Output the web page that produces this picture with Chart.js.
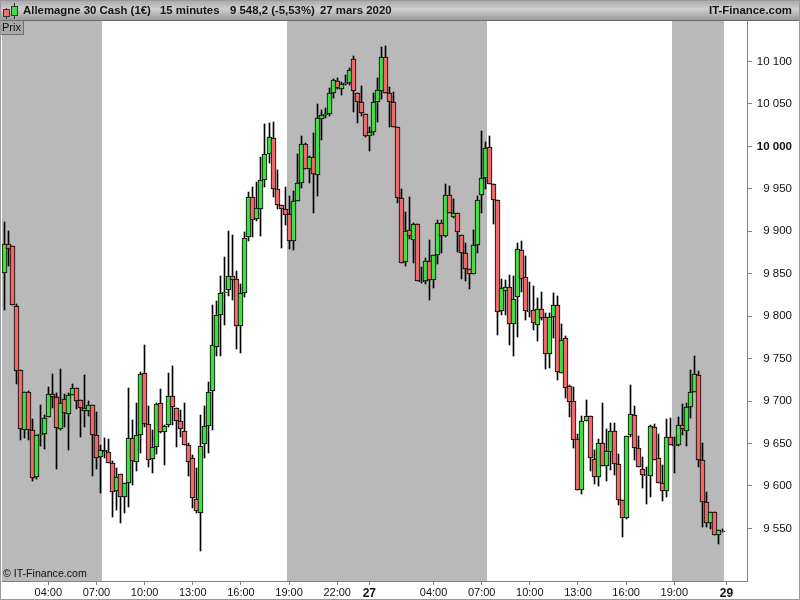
<!DOCTYPE html>
<html>
<head>
<meta charset="utf-8">
<title>Allemagne 30 Cash</title>
<script src="https://cdn.jsdelivr.net/npm/chart.js@4"></script>
<style>
html, body { margin: 0; padding: 0; background: #fff; }
canvas { display: block; }
</style>
</head>
<body>
<canvas id="priceChart" width="800" height="600"></canvas>
<script>
const opens = [9850.8,9885.0,9882.6,9811.9,9736.5,9665.9,9710.6,9665.9,9610.6,9660.0,9661.2,9681.2,9708.2,9704.7,9667.0,9702.4,9684.7,9707.1,9715.4,9701.2,9691.8,9688.2,9695.3,9660.0,9634.2,9642.4,9640.0,9627.1,9594.1,9614.1,9587.0,9603.5,9656.4,9628.3,9660.0,9733.0,9672.9,9631.8,9646.0,9697.7,9663.5,9671.8,9705.9,9691.8,9676.5,9664.7,9648.2,9633.0,9584.7,9568.2,9649.4,9670.6,9711.8,9763.6,9801.3,9827.2,9830.8,9847.3,9843.7,9788.4,9827.2,9893.2,9940.3,9914.4,9926.2,9960.4,9991.0,10009.8,9949.7,9931.0,9926.2,9920.3,9888.5,9935.6,9956.8,10002.8,9973.3,9987.5,9966.3,10032.2,10036.9,10038.1,10062.8,10077.0,10067.6,10073.5,10074.6,10102.9,10062.8,10052.3,10038.1,10012.2,10016.9,10052.3,10065.2,10105.3,10062.8,10052.3,10022.8,9939.2,9863.8,9901.5,9889.7,9908.5,9840.2,9841.4,9865.0,9842.6,9872.0,9909.7,9894.4,9942.7,9916.8,9921.5,9895.6,9874.4,9855.5,9849.6,9883.8,9942.7,9962.7,9999.3,9955.7,9936.8,9806.1,9829.6,9834.3,9790.8,9822.5,9877.9,9846.1,9804.9,9807.2,9789.6,9808.4,9799.0,9755.4,9799.0,9813.1,9733.0,9774.3,9717.7,9700.0,9655.3,9595.3,9676.5,9682.4,9631.8,9610.6,9650.6,9623.5,9640.0,9664.7,9625.9,9583.5,9562.3,9660.0,9683.5,9644.7,9620.0,9611.8,9611.8,9669.4,9633.0,9603.5,9594.1,9657.6,9647.0,9648.2,9671.8,9664.7,9693.0,9710.6,9730.7,9630.6,9581.1,9556.4,9569.3,9542.2,9545.8];
const highs = [9910.9,9900.3,9882.6,9814.3,9736.5,9710.6,9711.8,9678.8,9660.0,9695.3,9683.5,9716.5,9731.8,9709.4,9737.7,9708.2,9709.4,9720.1,9715.4,9701.2,9730.7,9700.0,9695.3,9687.1,9648.2,9656.4,9655.3,9629.4,9621.2,9614.1,9603.5,9715.4,9677.6,9697.7,9734.2,9766.0,9694.1,9665.9,9697.7,9714.2,9671.8,9733.0,9741.3,9691.8,9689.4,9697.7,9650.6,9636.5,9621.2,9683.5,9694.1,9722.4,9813.1,9817.8,9847.3,9869.7,9900.3,9895.6,9853.2,9837.9,9899.1,9946.2,9952.1,9958.0,9987.5,10026.3,10027.5,10028.7,9972.2,9931.0,9952.1,9941.5,9947.4,9991.0,10012.2,10004.0,9988.6,10015.7,10049.9,10042.8,10045.2,10068.7,10079.3,10080.5,10075.8,10084.1,10092.3,10106.4,10062.8,10071.1,10038.1,10022.8,10062.8,10080.5,10117.0,10118.2,10069.9,10064.0,10022.8,9949.7,9922.7,9940.3,9909.7,9908.5,9857.9,9868.5,9889.7,9872.0,9913.2,9913.2,9955.7,9953.3,9938.0,9921.5,9895.6,9886.2,9855.5,9901.5,9941.5,10018.1,10005.1,10012.2,9955.7,9936.8,9843.7,9842.6,9848.5,9847.3,9886.2,9888.5,9870.8,9840.2,9835.5,9821.4,9828.4,9803.7,9803.7,9827.2,9823.7,9790.8,9776.6,9718.9,9716.5,9661.2,9682.4,9701.2,9682.4,9642.4,9655.3,9697.7,9667.0,9674.1,9674.1,9637.7,9583.5,9658.8,9718.9,9694.1,9658.8,9634.2,9622.4,9671.8,9672.9,9661.2,9624.7,9678.8,9680.0,9657.6,9681.2,9696.5,9697.7,9736.5,9753.0,9735.3,9650.6,9592.9,9569.3,9569.3,9548.1,9549.3];
const lows = [9807.2,9859.1,9813.1,9720.1,9654.1,9656.4,9654.1,9605.9,9608.2,9647.0,9643.5,9681.2,9691.8,9620.0,9665.9,9669.4,9642.4,9707.1,9690.6,9657.6,9669.4,9682.4,9611.8,9620.0,9591.7,9633.0,9627.1,9563.5,9571.7,9556.4,9568.2,9575.3,9601.2,9617.6,9638.9,9669.4,9622.4,9615.3,9637.7,9662.4,9624.7,9669.4,9671.8,9646.0,9657.6,9648.2,9611.8,9574.1,9568.2,9523.4,9633.0,9638.9,9665.9,9753.0,9753.0,9789.6,9823.7,9819.0,9761.3,9756.6,9822.5,9888.5,9893.2,9912.1,9894.4,9952.1,9980.4,9940.3,9926.2,9880.3,9907.4,9879.1,9877.9,9935.6,9950.9,9973.3,9956.8,9921.5,9941.5,10007.5,10033.4,10035.7,10056.9,10067.6,10060.5,10072.3,10072.3,10040.5,10027.5,10035.7,10011.0,9994.5,10013.4,10028.7,10055.8,10062.8,10022.8,10022.8,9933.3,9862.6,9859.1,9890.9,9862.6,9841.4,9839.1,9837.9,9819.0,9833.2,9861.4,9874.4,9893.2,9921.5,9915.6,9875.6,9843.7,9841.4,9832.0,9849.6,9874.4,9921.5,9949.7,9955.7,9908.5,9777.8,9801.3,9801.3,9766.0,9753.0,9775.4,9828.4,9795.5,9799.0,9783.7,9770.7,9795.5,9737.7,9738.9,9774.3,9724.8,9733.0,9703.6,9681.2,9644.7,9595.3,9590.6,9676.5,9617.6,9602.3,9600.0,9623.5,9605.9,9618.8,9612.9,9577.6,9539.9,9561.1,9657.6,9630.6,9622.4,9597.6,9578.8,9587.0,9630.6,9603.5,9582.3,9587.0,9648.2,9615.3,9647.0,9660.0,9647.0,9680.0,9710.6,9622.4,9551.6,9551.6,9549.3,9542.2,9531.6,9545.8];
const closes = [9885.0,9879.1,9813.1,9735.3,9667.0,9710.6,9665.9,9609.4,9660.0,9661.2,9680.0,9708.2,9704.7,9668.2,9697.7,9685.9,9707.1,9715.4,9700.0,9691.8,9688.2,9695.3,9660.0,9633.0,9642.4,9640.0,9627.1,9592.9,9610.6,9587.0,9603.5,9656.4,9629.4,9660.0,9731.8,9672.9,9630.6,9646.0,9696.5,9663.5,9670.6,9705.9,9693.0,9676.5,9667.0,9648.2,9628.3,9585.9,9570.5,9647.0,9670.6,9710.6,9766.0,9801.3,9827.2,9828.4,9847.3,9842.6,9788.4,9827.2,9892.1,9940.3,9913.2,9927.4,9960.4,9991.0,10011.0,9949.7,9931.0,9926.2,9919.2,9888.5,9935.6,9956.8,10002.8,9973.3,9987.5,9967.4,10033.4,10036.9,10038.1,10062.8,10078.2,10068.7,10073.5,10074.6,10090.0,10065.2,10052.3,10039.3,10012.2,10016.9,10052.3,10066.4,10105.3,10062.8,10052.3,10022.8,9939.2,9862.6,9900.3,9894.4,9908.5,9841.4,9841.4,9865.0,9842.6,9872.0,9909.7,9894.4,9942.7,9921.5,9921.5,9899.1,9874.4,9855.5,9849.6,9883.8,9936.8,9962.7,9998.1,9955.7,9936.8,9804.9,9833.2,9834.3,9790.8,9820.2,9879.1,9843.7,9806.1,9806.1,9791.9,9808.4,9797.8,9755.4,9799.0,9813.1,9734.2,9771.9,9715.4,9698.9,9654.1,9595.3,9676.5,9682.4,9633.0,9610.6,9650.6,9623.5,9641.2,9664.7,9625.9,9583.5,9562.3,9658.8,9684.7,9644.7,9622.4,9612.9,9612.9,9670.6,9630.6,9603.5,9594.1,9657.6,9648.2,9648.2,9671.8,9667.0,9693.0,9710.6,9731.8,9630.6,9581.1,9556.4,9569.3,9542.2,9548.1,9547.0];

const priceTicks = [10100,10050,10000,9950,9900,9850,9800,9750,9700,9650,9600,9550];
const timeTickIndex = [11,23,35,47,59,71,83,91,107,119,131,143,155,167,180];
const timeTickLabels = ['04:00','07:00','10:00','13:00','16:00','19:00','22:00','27','04:00','07:00','10:00','13:00','16:00','19:00','29'];
const boldTimeLabels = ['27','29'];
// index ranges of the grey session bands
const bandStarts = [-0.54,70.48,166.43];
const bandEnds = [24.38,120.33,179.38];

const titleParts = ['Allemagne 30 Cash (1€)','15 minutes','9 548,2 (-5,53%)','27 mars 2020'];
const titleX = [23,160,230,320];

const UP = '#44dc44';
const DOWN = '#ec6a6a';
const FONT = '"Liberation Sans", Arial, sans-serif';

const indexes = closes.map((c, i) => i);
const wicks = indexes.map(i => ({ x: i, y: [lows[i], highs[i]] }));
const bodies = indexes.map(i => ({ x: i, y: [opens[i], closes[i]] }));
const bodyColors = indexes.map(i => closes[i] >= opens[i] ? UP : DOWN);

function formatPrice(v) {
  return String(v).replace(/\B(?=(\d{3})+$)/g, ' ');
}

// grey bands behind the candles, and pixel-snapping so the bars stay crisp
const sessionBands = {
  id: 'sessionBands',
  beforeDatasetsDraw(chart) {
    const { ctx, chartArea, scales } = chart;
    ctx.save();
    ctx.fillStyle = '#b9b9b9';
    bandStarts.forEach((s, i) => {
      const a = Math.round(scales.x.getPixelForValue(s));
      const b = Math.round(scales.x.getPixelForValue(bandEnds[i]));
      ctx.fillRect(a, chartArea.top, b - a, chartArea.bottom - chartArea.top);
    });
    ctx.restore();
    chart.data.datasets.forEach((d, n) => {
      chart.getDatasetMeta(n).data.forEach(el => {
        const lo = Math.min(el.y, el.base);
        const hi = Math.max(el.y, el.base);
        el.x = Math.floor(el.x) + 0.5;
        el.y = Math.round(lo);
        el.base = Math.round(hi);
      });
    });
  }
};

const chrome = {
  id: 'chrome',
  afterDraw(chart) {
    const { ctx } = chart;
    ctx.save();
    // header strip
    const g = ctx.createLinearGradient(0, 0, 0, 20);
    g.addColorStop(0, '#a6a6a6');
    g.addColorStop(0.45, '#cfcfcf');
    g.addColorStop(1, '#9a9a9a');
    ctx.fillStyle = g;
    ctx.fillRect(0, 0, 800, 20);
    ctx.fillStyle = '#6a6a6a';
    ctx.fillRect(0, 20, 800, 1);

    // small candle icon
    ctx.fillStyle = '#333';
    ctx.fillRect(6, 8, 1, 11);
    ctx.fillRect(14, 3, 1, 16);
    ctx.fillRect(3, 9, 7, 8);
    ctx.fillRect(11, 6, 7, 10);
    ctx.fillStyle = '#f07070';
    ctx.fillRect(4, 10, 5, 6);
    ctx.fillStyle = UP;
    ctx.fillRect(12, 7, 5, 8);

    ctx.fillStyle = '#151515';
    ctx.textBaseline = 'middle';
    ctx.font = 'bold 11.4px ' + FONT;
    ctx.textAlign = 'left';
    titleParts.forEach((t, i) => ctx.fillText(t, titleX[i], 11));
    ctx.textAlign = 'right';
    ctx.fillText('IT-Finance.com', 792, 11);

    // "Prix" tag
    ctx.fillStyle = '#a9a9a9';
    ctx.fillRect(0, 21, 24, 14);
    ctx.strokeStyle = '#707070';
    ctx.strokeRect(-0.5, 20.5, 24, 14);
    ctx.fillStyle = '#111';
    ctx.textAlign = 'left';
    ctx.font = '11px ' + FONT;
    ctx.fillText('Prix', 2, 28);

    // copyright
    ctx.font = '10.6px ' + FONT;
    ctx.fillText('© IT-Finance.com', 3, 574);

    // window edge
    ctx.strokeStyle = '#9a9a9a';
    ctx.strokeRect(0.5, 0.5, 799, 599);
    ctx.restore();
  }
};

new Chart(document.getElementById('priceChart'), {
  type: 'bar',
  data: {
    datasets: [
      { data: bodies, backgroundColor: bodyColors, borderColor: '#000', borderWidth: 1, borderSkipped: false, barThickness: 5, order: 1 },
      { data: wicks, backgroundColor: '#000', borderWidth: 0, barThickness: 1, order: 2 }
    ]
  },
  options: {
    responsive: false,
    animation: false,
    events: [],
    layout: { padding: { left: 2, top: 20, right: 8, bottom: 0 } },
    datasets: { bar: { grouped: false } },
    plugins: { legend: { display: false }, tooltip: { enabled: false }, title: { display: false } },
    scales: {
      x: {
        type: 'linear',
        offset: false,
        min: -0.538,
        max: 185.12,
        afterFit(scale) { scale.height = 19; },
        afterBuildTicks(axis) { axis.ticks = timeTickIndex.map(v => ({ value: v })); },
        grid: { offset: false, drawOnChartArea: false, tickLength: 4, tickColor: '#808080' },
        border: { color: '#808080' },
        ticks: {
          autoSkip: false,
          maxRotation: 0,
          padding: 1,
          color: '#111',
          font: ctx => {
            const lab = ctx.tick ? timeTickLabels[timeTickIndex.indexOf(ctx.tick.value)] : '';
            return { family: FONT, size: boldTimeLabels.includes(lab) ? 12 : 11, weight: boldTimeLabels.includes(lab) ? 'bold' : 'normal' };
          },
          callback: v => timeTickLabels[timeTickIndex.indexOf(v)]
        }
      },
      y: {
        position: 'right',
        min: 9488.0,
        max: 10148.84,
        afterFit(scale) { scale.width = 45; },
        afterBuildTicks(axis) { axis.ticks = priceTicks.map(v => ({ value: v })); },
        grid: { drawOnChartArea: false, tickLength: 5, tickColor: '#808080' },
        border: { color: '#808080' },
        ticks: {
          crossAlign: 'far',
          padding: 3,
          color: '#111',
          font: ctx => ({ family: FONT, size: 11.5, weight: ctx.tick && ctx.tick.value === 10000 ? 'bold' : 'normal' }),
          callback: v => formatPrice(v)
        }
      }
    }
  },
  plugins: [sessionBands, chrome]
});
</script>
</body>
</html>
